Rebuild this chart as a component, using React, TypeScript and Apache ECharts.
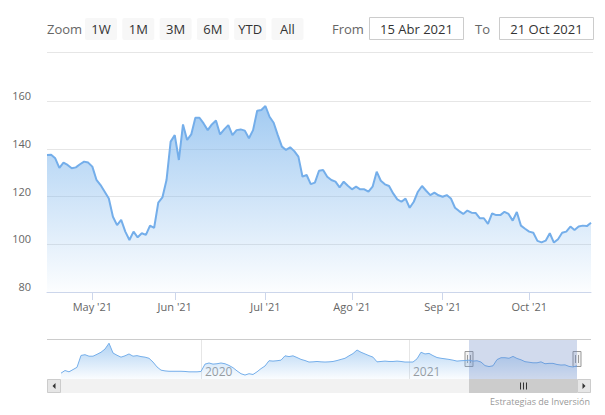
import React, { useEffect, useRef } from 'react';
import * as echarts from 'echarts';

// ---------- data ----------
const MONTHS_ES = ['Ene', 'Feb', 'Mar', 'Abr', 'May', 'Jun', 'Jul', 'Ago', 'Sep', 'Oct', 'Nov', 'Dic'];
const TRADING_START = '2021-04-16';
const TRADING_END = '2021-10-22';
const HOLIDAYS = ['2021-05-31', '2021-07-05', '2021-09-06'];

// daily closes shown in the main chart (one per trading day)
const prices = [
  137.4, 137.5, 136.0, 132.0, 134.2, 133.2, 131.8, 132.2, 133.5, 134.6,
  134.2, 132.5, 127.0, 124.8, 122.0, 119.2, 111.5, 108.0, 110.2, 105.3,
  101.8, 105.3, 102.9, 104.6, 103.9, 107.8, 106.9, 117.4, 119.6, 126.9,
  143.0, 145.7, 135.3, 150.2, 143.7, 146.0, 153.0, 153.0, 150.6, 147.8,
  150.2, 151.8, 146.0, 148.1, 149.9, 145.7, 147.8, 148.1, 147.6, 144.4,
  147.8, 155.9, 156.2, 157.9, 153.4, 150.9, 145.7, 140.9, 139.5, 140.6,
  139.0, 136.7, 128.3, 129.0, 125.2, 125.8, 130.8, 131.1, 128.3, 126.9,
  126.2, 123.8, 126.2, 124.5, 123.0, 124.1, 123.0, 123.0, 122.0, 124.1,
  130.4, 126.6, 125.1, 124.4, 121.3, 118.8, 117.8, 119.1, 115.3, 117.8,
  122.0, 124.4, 122.4, 120.6, 121.6, 120.5, 119.9, 120.6, 119.2, 115.3,
  113.9, 112.7, 114.1, 113.2, 113.1, 110.9, 110.9, 108.5, 112.9, 112.2,
  112.2, 113.6, 112.7, 109.9, 113.5, 107.8, 106.5, 105.3, 104.8, 101.4,
  100.8, 101.5, 104.6, 100.7, 102.1, 104.8, 105.3, 107.4, 106.0, 107.4,
  107.8, 107.6, 109.0,
];

// navigator: weekly closes (Wednesdays) over the whole history
const NAV_START = '2019-05-01';
const navPrices = [
  68, 82, 75, 87, 99, 162, 166, 158, 158, 168,
  179, 196, 227, 175, 163, 153, 160, 170, 158, 161,
  156, 153, 147, 127, 101, 84, 80, 78, 78, 78,
  78, 77, 75, 75, 75, 77, 116, 122, 116, 118,
  122, 118, 109, 97, 80, 65, 58, 65, 61, 75,
  92, 106, 134, 132, 134, 137, 160, 156, 160, 151,
  141, 135, 127, 128, 130, 128, 127, 128, 130, 135,
  141, 147, 160, 172, 191, 179, 170, 161, 153, 128,
  130, 132, 130, 130, 132, 130, 127, 127, 127, 144,
  179, 170, 173, 161, 151, 147, 144, 141, 137, 132,
  134, 135,
  137, 132, 134, 127, 108, 103, 107, 140,
  150, 150, 147, 157, 146, 139, 129, 126, 123, 123,
  128, 118, 120, 120, 114, 111, 112, 104, 101, 107,
];
const NAV_SELECTED_FROM = '2021-04-14';

const yTicks = [80, 100, 120, 140, 160];
const rangeButtons = ['1W', '1M', '3M', '6M', 'YTD', 'All'];
const FROM_TEXT = '15 Abr 2021';
const TO_TEXT = '21 Oct 2021';
const CREDITS = 'Estrategias de Inversión';

// ---------- helpers ----------
const DAY = 86400000;
const fmt = (t: number) => new Date(t).toISOString().slice(0, 10);
const parse = (s: string) => Date.parse(s + 'T00:00:00Z');

function tradingDays(start: string, end: string): string[] {
  const out: string[] = [];
  for (let t = parse(start); t <= parse(end); t += DAY) {
    const wd = new Date(t).getUTCDay();
    const s = fmt(t);
    if (wd === 0 || wd === 6 || HOLIDAYS.includes(s)) continue;
    out.push(s);
  }
  return out;
}

const mainDates = tradingDays(TRADING_START, TRADING_END);
const monthStart = mainDates.map((d, i) => i > 0 && d.slice(5, 7) !== mainDates[i - 1].slice(5, 7));
const navDates = navPrices.map((_, i) => fmt(parse(NAV_START) + i * 7 * DAY));
const yearMark = navDates.map((d) => {
  const t = parse(d);
  return new Date(t - 3 * DAY).getUTCFullYear() !== new Date(t + 3 * DAY).getUTCFullYear();
});

const FONT = '"Open Sans", sans-serif';
const LINE = '#74aeea';

export default function App() {
  const ref = useRef<HTMLDivElement>(null);

  useEffect(() => {
    if (!ref.current) return;
    const chart = echarts.init(ref.current, null, { renderer: 'svg' });

    const mainGradient = new echarts.graphic.LinearGradient(0, 0, 0, 1, [
      { offset: 0, color: 'rgba(124,181,236,1)' },
      { offset: 1, color: 'rgba(124,181,236,0.03)' },
    ]);
    const navGradient = new echarts.graphic.LinearGradient(0, 0, 0, 1, [
      { offset: 0, color: 'rgba(124,181,236,0.85)' },
      { offset: 1, color: 'rgba(124,181,236,0.05)' },
    ]);

    chart.setOption({
      animation: false,
      grid: [
        { left: 47, top: 101, width: 544, height: 191 },
        { left: 61, top: 340, width: 516, height: 39 },
      ],
      xAxis: [
        {
          type: 'category',
          gridIndex: 0,
          data: mainDates,
          boundaryGap: false,
          axisLine: { lineStyle: { color: '#ccd6eb' } },
          axisTick: { interval: (i: number) => monthStart[i], length: 8, lineStyle: { color: '#ccd6eb' } },
          axisLabel: {
            interval: (i: number) => monthStart[i],
            formatter: (v: string) => `${MONTHS_ES[+v.slice(5, 7) - 1]} '${v.slice(2, 4)}`,
            color: '#666666',
            fontFamily: FONT,
            fontSize: 11,
            margin: 9,
          },
          splitLine: { show: false },
        },
        {
          type: 'category',
          gridIndex: 1,
          data: navDates,
          boundaryGap: false,
          axisLine: { show: false },
          axisTick: { show: false },
          splitLine: { show: true, interval: (i: number) => yearMark[i], lineStyle: { color: '#e6e6e6' } },
          axisLabel: {
            inside: true,
            interval: (i: number) => yearMark[i],
            formatter: (v: string) => String(new Date(parse(v) + 3 * DAY).getUTCFullYear()),
            color: '#999999',
            fontFamily: FONT,
            fontSize: 12,
            align: 'left',
            padding: [0, 0, 0, 4],
            margin: 2,
          },
        },
      ],
      yAxis: [
        {
          type: 'value',
          gridIndex: 0,
          min: yTicks[0],
          max: yTicks[yTicks.length - 1],
          interval: 20,
          axisLine: { show: false },
          axisTick: { show: false },
          splitLine: { lineStyle: { color: '#e6e6e6' } },
          axisLabel: {
            color: '#666666',
            fontFamily: FONT,
            fontSize: 11,
            margin: 16,
            verticalAlign: 'bottom',
          },
        },
        { type: 'value', gridIndex: 1, min: 37, max: 244, show: false },
      ],
      series: [
        {
          type: 'line',
          xAxisIndex: 0,
          yAxisIndex: 0,
          data: prices,
          symbol: 'none',
          silent: true,
          lineStyle: { color: LINE, width: 2 },
          areaStyle: { color: mainGradient, origin: 'start' },
          z: 2,
        },
        {
          type: 'line',
          xAxisIndex: 1,
          yAxisIndex: 1,
          data: navPrices,
          symbol: 'none',
          silent: true,
          lineStyle: { color: LINE, width: 1 },
          areaStyle: { color: navGradient, origin: 'start' },
        },
      ],
    });

    const mL = Math.round(chart.convertToPixel({ xAxisIndex: 1 }, NAV_SELECTED_FROM) as number);
    const mR = Math.round(chart.convertToPixel({ xAxisIndex: 1 }, navDates[navDates.length - 1]) as number);
    const txt = (x: number, y: number, text: string, fill: string, size: number, align = 'left') => ({
      type: 'text',
      x,
      y,
      z: 100,
      style: { text, fill, fontSize: size, fontFamily: FONT, align, verticalAlign: 'middle' },
    });
    const handle = (c: number) => ({
      type: 'group',
      z: 110,
      children: [
        { type: 'rect', shape: { x: c - 4, y: 351.5, width: 8, height: 15 }, style: { fill: '#f2f2f2', stroke: '#999999', lineWidth: 1 } },
        { type: 'line', shape: { x1: c - 1.5, y1: 355, x2: c - 1.5, y2: 363 }, style: { stroke: '#999999', lineWidth: 1 } },
        { type: 'line', shape: { x1: c + 1.5, y1: 355, x2: c + 1.5, y2: 363 }, style: { stroke: '#999999', lineWidth: 1 } },
      ],
    });
    const mid = (mL + mR) / 2;

    const graphic: any[] = [
      txt(47, 29, 'Zoom', '#666666', 13),
      ...rangeButtons.flatMap((b, k) => {
        const x0 = 85 + k * 37.3;
        return [
          { type: 'rect', z: 100, shape: { x: x0, y: 18, width: 32, height: 22, r: 2 }, style: { fill: '#f7f7f7' } },
          txt(x0 + 16, 29, b, '#333333', 13, 'center'),
        ];
      }),
      txt(332, 29, 'From', '#666666', 13),
      { type: 'rect', z: 100, shape: { x: 369.5, y: 17.5, width: 94, height: 22 }, style: { fill: '#ffffff', stroke: '#cccccc', lineWidth: 1 } },
      txt(416.5, 29, FROM_TEXT, '#333333', 13, 'center'),
      txt(475, 29, 'To', '#666666', 13),
      { type: 'rect', z: 100, shape: { x: 499.5, y: 17.5, width: 94, height: 22 }, style: { fill: '#ffffff', stroke: '#cccccc', lineWidth: 1 } },
      txt(546.5, 29, TO_TEXT, '#333333', 13, 'center'),
      { type: 'line', z: 100, shape: { x1: 47, y1: 52.5, x2: 593, y2: 52.5 }, style: { stroke: '#e6e6e6', lineWidth: 1 } },
      // navigator outline and mask
      { type: 'line', z: 100, shape: { x1: 47, y1: 339.5, x2: 591, y2: 339.5 }, style: { stroke: '#cccccc', lineWidth: 1 } },
      { type: 'rect', z: 101, shape: { x: mL, y: 340, width: mR - mL, height: 39 }, style: { fill: 'rgba(102,133,194,0.3)' } },
      // scrollbar
      { type: 'rect', z: 100, shape: { x: 47, y: 379, width: 544, height: 14 }, style: { fill: '#f2f2f2' } },
      { type: 'rect', z: 101, shape: { x: mL, y: 379, width: mR - mL, height: 14 }, style: { fill: '#cccccc' } },
      ...[-3, 0, 3].map((d) => ({
        type: 'line', z: 102, shape: { x1: mid + d + 0.5, y1: 382.5, x2: mid + d + 0.5, y2: 389.5 }, style: { stroke: '#333333', lineWidth: 1 },
      })),
      { type: 'rect', z: 102, shape: { x: 47.5, y: 379.5, width: 13, height: 13 }, style: { fill: '#e6e6e6', stroke: '#cccccc', lineWidth: 1 } },
      { type: 'polygon', z: 103, shape: { points: [[52.5, 386], [55.5, 383], [55.5, 389]] }, style: { fill: '#333333' } },
      { type: 'rect', z: 102, shape: { x: 577.5, y: 379.5, width: 13, height: 13 }, style: { fill: '#e6e6e6', stroke: '#cccccc', lineWidth: 1 } },
      { type: 'polygon', z: 103, shape: { points: [[585.5, 386], [582.5, 383], [582.5, 389]] }, style: { fill: '#333333' } },
      handle(mL),
      handle(mR),
      txt(590, 401, CREDITS, '#999999', 9, 'right'),
    ];
    chart.setOption({ graphic });

    return () => chart.dispose();
  }, []);

  return <div ref={ref} style={{ position: 'absolute', left: 0, top: 0, width: 605, height: 415 }} />;
}
